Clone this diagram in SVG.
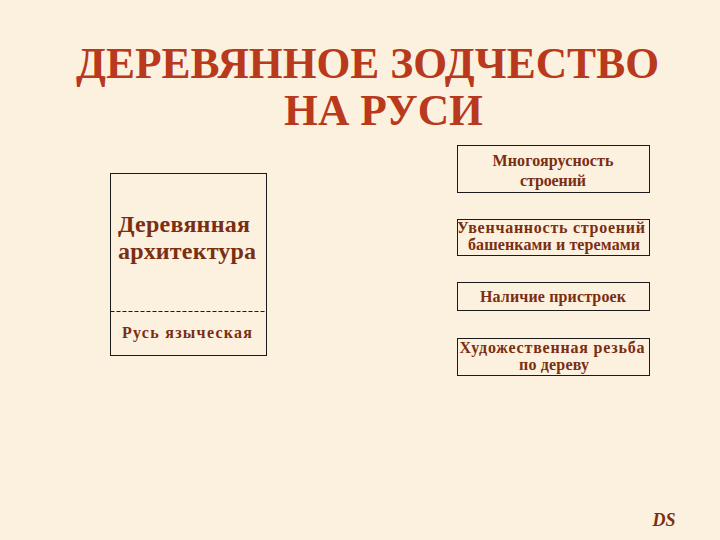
<svg xmlns="http://www.w3.org/2000/svg" width="720" height="540" viewBox="0 0 720 540">
<style>
.t{font-family:"Liberation Serif","Times New Roman",serif;font-weight:bold;fill:#B8391C;font-size:43.5px;text-anchor:middle}
.box{fill:none;stroke:#1a1a1a;stroke-width:1}
.s{font-family:"Liberation Serif","Times New Roman",serif;font-weight:bold;fill:#7A2E12;font-size:16px;text-anchor:middle}
.l{font-family:"Liberation Serif","Times New Roman",serif;font-weight:bold;fill:#7A2E12;font-size:24px}
</style>
<rect width="720" height="540" fill="#FCF1DE"/>
<text class="t" x="367.5" y="78">ДЕРЕВЯННОЕ ЗОДЧЕСТВО</text>
<text class="t" x="383.5" y="125">НА РУСИ</text>
<g id="left">
<rect class="box" x="110.5" y="173.5" width="156" height="182"/>
<line x1="110.5" y1="311.5" x2="266.5" y2="311.5" stroke="#1a1a1a" stroke-dasharray="4,2"/>
<text class="l" x="118" y="232" textLength="132" lengthAdjust="spacing">Деревянная</text>
<text class="l" x="118" y="259" textLength="138" lengthAdjust="spacing">архитектура</text>
<text class="s" x="187" y="338" textLength="130" lengthAdjust="spacing">Русь языческая</text>
</g>
<g id="n1">
<rect class="box" x="457.5" y="145.5" width="192" height="47"/>
<text class="s" x="553" y="166" textLength="121" lengthAdjust="spacing">Многоярусность</text>
<text class="s" x="553" y="186" textLength="66" lengthAdjust="spacing">строений</text>
</g>
<g id="n2">
<rect class="box" x="457.5" y="219.5" width="192" height="36"/>
<text class="s" x="551" y="233" textLength="188" lengthAdjust="spacing">Увенчанность строений</text>
<text class="s" x="554" y="250" textLength="172" lengthAdjust="spacing">башенками и теремами</text>
</g>
<g id="n3">
<rect class="box" x="457.5" y="282.5" width="192" height="28"/>
<text class="s" x="553" y="302" textLength="146" lengthAdjust="spacing">Наличие пристроек</text>
</g>
<g id="n4">
<rect class="box" x="457.5" y="338.5" width="192" height="37"/>
<text class="s" x="552" y="353" textLength="185" lengthAdjust="spacing">Художественная резьба</text>
<text class="s" x="554" y="370" textLength="70" lengthAdjust="spacing">по дереву</text>
</g>
<g id="connectors"></g>
<text x="664" y="526" style="font-family:'Liberation Serif',serif;font-style:italic;font-weight:bold;font-size:18px;fill:#7A2E12;text-anchor:middle">DS</text>
</svg>
